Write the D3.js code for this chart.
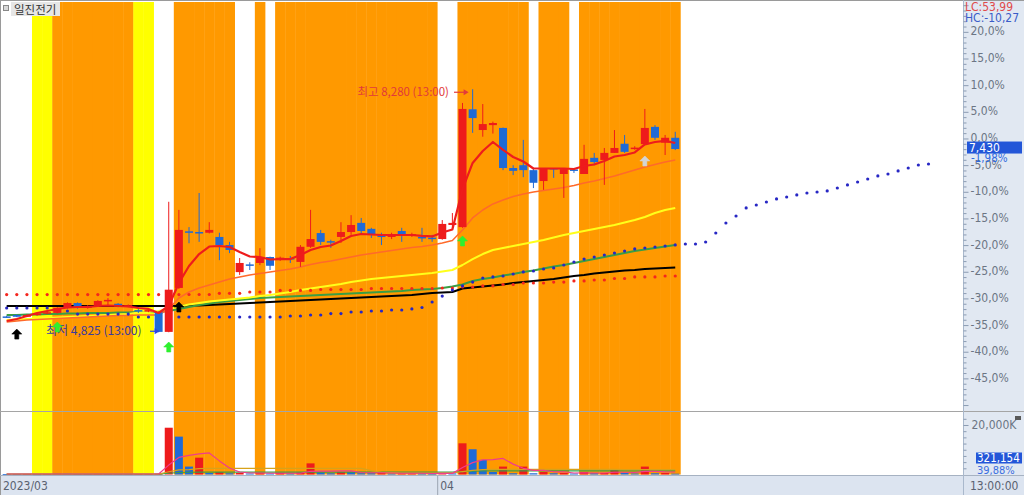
<!DOCTYPE html>
<html><head><meta charset="utf-8">
<script src="https://cdn.jsdelivr.net/npm/d3@7/dist/d3.min.js"></script>
<style>
html,body{margin:0;padding:0;background:#fff;overflow:hidden;}
svg{display:block;}
.ax text{font-family:'Liberation Sans Narrow','DejaVu Sans Condensed','Liberation Sans',sans-serif;font-size:12px;fill:#6b7584;}
</style></head><body>
<svg id="chart" width="1024" height="495"></svg>
<script>
// ---------------- DATA ----------------
const stockName = "일진전기";
const periodIndex = d3.range(92);              // 67 candles + 25 forward periods
const candleCount = 67;
const bgState = "WWWYYOOOOOOOOYYWWOOOOOOWWOWOOOOOOOOOOOOOOOOWWOOOOOOOWOOOWOOOOOOOOOO";
const monthLabels = ["2023/03", "04"];
const monthStart = [0, 43];
const basePrice = 7580;                        // 0,0% reference
const pctTickLabels = [20,15,10,5,0,-5,-10,-15,-20,-25,-30,-35,-40,-45];
const volTickLabels = [20000];                 // K

const openP  = [5050,5070,5045,5070,5090,5100,5170,5240,5170,5200,5270,5230,5190,5140,5120,5110,4830,5455,6260,6250,6240,6180,6065,5680,5790,5810,5895,5855,5880,5825,6040,6235,6120,6180,6250,6380,6295,6200,6180,6265,6195,6180,6170,6150,6350,6320,7995,7700,7770,7730,7160,7200,7130,6975,7160,7075,7140,7075,7305,7275,7375,7505,7430,7500,7745,7520,7590];
const highP  = [5060,5080,5080,5095,5120,5180,5250,5250,5210,5280,5310,5240,5220,5160,5150,5120,6680,6565,6320,6805,6390,6240,6110,5880,5820,6020,5900,5900,5910,6065,6565,6280,6140,6390,6490,6450,6310,6240,6240,6310,6240,6310,6210,6420,6520,8085,8280,8070,7820,7735,7200,7560,7160,7160,7160,7160,7160,7490,7375,7445,7700,7630,7470,8000,7770,7630,7675];
const lowP   = [5030,5040,5040,5060,5080,5090,5160,5160,5160,5190,5200,5180,5180,5100,5110,4825,4825,5440,6090,6110,6230,5850,5950,5640,5710,5780,5710,5840,5810,5755,6025,6065,6025,6095,6210,6210,6165,6065,6150,6110,6180,6110,6110,6140,6310,6310,7660,7605,7650,7130,7060,7030,6875,6850,7020,6735,7090,7075,7200,6920,7375,7375,7420,7490,7560,7345,7415];
const closeP = [5040,5045,5070,5090,5110,5170,5240,5170,5200,5270,5285,5190,5210,5120,5140,4830,5430,6280,6250,6240,6280,6065,5995,5810,5780,5895,5770,5885,5865,6040,6150,6110,6110,6250,6350,6265,6210,6180,6210,6195,6220,6165,6160,6365,6380,8000,7870,7785,7800,7160,7120,7130,6950,7160,7145,7145,7130,7290,7245,7375,7445,7390,7450,7730,7590,7590,7430];
const volumeK = [150,120,200,100,150,400,350,200,150,250,200,150,120,150,200,300,18900,15300,3200,6800,600,1000,500,600,400,500,400,600,400,800,4500,900,500,1000,1000,500,500,550,350,450,500,500,300,500,450,12600,10200,5900,1000,3200,500,3200,500,1000,500,600,400,1000,500,600,1800,600,400,3200,500,600,321.154];

const lineRed    = [4985,5014,5056,5099,5127,5156,5177,5184,5184,5198,5205,5198,5191,5170,5156,5099,5198,5525,5767,5937,6044,6051,6037,5966,5902,5895,5859,5866,5866,5923,5995,6037,6058,6122,6194,6222,6215,6208,6208,6208,6208,6194,6187,6243,6286,6862,7232,7402,7530,7417,7317,7253,7153,7153,7153,7153,7146,7189,7210,7260,7324,7345,7381,7495,7530,7545,7516];
const lineOrange = [4971,4985,4999,5006,5014,5021,5028,5035,5042,5049,5056,5063,5063,5070,5070,5070,5156,5312,5397,5454,5497,5539,5582,5611,5639,5660,5682,5703,5724,5753,5788,5817,5838,5866,5895,5923,5944,5966,5987,6009,6030,6044,6066,6094,6130,6279,6450,6563,6649,6705,6755,6791,6819,6841,6862,6883,6912,6947,6976,7011,7047,7089,7132,7175,7210,7246,7274];
const lineYellow = [4999,5006,5014,5021,5028,5035,5042,5049,5056,5063,5070,5077,5084,5106,5113,5127,5156,5191,5219,5241,5262,5276,5291,5305,5319,5340,5355,5376,5397,5426,5447,5468,5490,5511,5539,5561,5582,5596,5611,5625,5639,5653,5668,5689,5710,5781,5866,5937,5995,6023,6051,6080,6108,6137,6172,6208,6236,6265,6293,6322,6350,6386,6421,6464,6521,6563,6592];
const lineGreen  = [5070,5070,5077,5077,5084,5084,5091,5091,5099,5099,5099,5106,5106,5113,5113,5113,5127,5156,5184,5212,5234,5255,5269,5283,5298,5312,5319,5326,5333,5340,5347,5355,5362,5369,5376,5383,5390,5397,5405,5412,5426,5433,5440,5454,5475,5504,5554,5582,5603,5632,5653,5682,5703,5731,5760,5781,5810,5838,5866,5895,5923,5952,5980,6001,6023,6044,6066];
const lineBlack  = [5198,5198,5198,5198,5198,5198,5198,5198,5198,5198,5198,5198,5198,5198,5198,5198,5198,5198,5205,5205,5212,5219,5227,5234,5241,5248,5255,5262,5269,5276,5283,5291,5298,5305,5312,5319,5326,5333,5340,5347,5355,5369,5383,5390,5397,5447,5461,5475,5490,5504,5525,5539,5554,5568,5582,5603,5625,5639,5660,5674,5689,5703,5710,5724,5731,5738,5746];
const dotsUpper  = [5360,5360,5360,5360,5360,5360,5360,5360,5360,5360,5360,5360,5360,5360,5360,5360,5360,5360,5362,5362,5362,5379,5379,5379,5397,5397,5397,5419,5419,5419,5419,5433,5433,5433,5433,5433,5447,5447,5447,5447,5447,5447,5447,5454,5454,5468,5468,5483,5483,5504,5504,5525,5525,5525,5539,5539,5554,5554,5568,5568,5589,5589,5611,5611,5611,5625,5625];
const dotsLead   = [5170,5170,5170,5170,5170,5127,5127,5084,5084,5084,5084,5084,5084,5042,5042,5042,5042,5042,5042,5042,5042,5042,5042,5042,5042,5042,5042,5042,5056,5056,5070,5070,5091,5091,5113,5113,5127,5127,5141,5141,5156,5177,5255,5340,5426,5483,5539,5596,5611,5625,5653,5682,5696,5724,5739,5781,5824,5866,5895,5923,5952,5980,6009,6023,6037,6051,6066,6080,6080,6108,6236,6378,6478,6592,6634,6677,6720,6748,6777,6805,6819,6834,6876,6919,6961,7004,7047,7075,7118,7160,7203,7217];

const volLinePink  = [200,200,200,200,200,200,200,200,200,200,200,200,200,200,200,200,3800,6900,7700,8300,8700,5500,2600,1000,600,600,500,500,500,500,1300,1400,1400,1500,1500,800,700,700,600,500,500,500,400,450,450,2800,4800,5900,6000,6500,4200,2500,1700,1700,1100,1100,600,700,600,600,900,900,800,1300,1300,1100,1000];
const volLineOchre = [200,200,200,200,200,200,200,200,200,200,200,200,200,200,200,200,1100,1900,2000,2400,2500,2500,2500,2500,2500,2500,2500,2500,2500,2500,2500,2500,2500,2500,2500,2500,1600,900,800,600,600,600,600,600,600,1200,1700,2000,2100,2100,2100,2100,2100,2100,2100,2100,2100,2100,2100,2100,2100,2000,2000,2000,2000,2000,2000];
const volLineGreen = [150,150,150,150,150,150,150,150,150,150,150,150,150,150,150,150,500,800,900,1000,1000,1000,1000,1000,1000,1000,1000,1000,1000,1000,1000,1000,1000,1000,1000,1000,1000,1000,1000,1000,1000,1000,1000,1000,1000,1200,1400,1500,1500,1500,1500,1500,1500,1500,1500,1500,1500,1500,1500,1500,1500,1500,1500,1500,1500,1500,1500];

const signalIdx   = [1, 5, 16, 17, 45, 63];
const signalPrice = [4870, 4971, 4686, 5255, 6194, 7331];
const signalColor = ["#000000", "#2ef02e", "#2ef02e", "#000000", "#2ef02e", "#d4d4d4"];

const hiIdx = 46, loIdx = 15;
const hiText = "최고 8,280 (13:00)", loText = "최저 4,825 (13:00)";
const lcText = "LC:53,99", hcText = "HC:-10,27";
const lastPriceText = "7,430", lastPctText = "-1,98%";
const lastVolText = "321,154", lastVolPctText = "39,88%";
const timeText = "13:00:00";

// ---------------- LAYOUT ----------------
const W = 1024, H = 495;
const plotL = 1.6, axisX = 963;
const mainTop = 2, mainBot = 410, volTop = 412, volBot = 474.5, dateTop = 476;
const step = 10.13;
const svg = d3.select("#chart");
const candleIdx = periodIndex.slice(0, candleCount);

const x = d3.scaleBand().domain(periodIndex).range([plotL, plotL + step * periodIndex.length]).padding(0);
const cx = i => x(i) + x.bandwidth() / 2;
const pctMin = -50.93, pctMax = 25.6;
const yPct = d3.scaleLinear().domain([pctMin, pctMax]).range([mainBot, mainTop]);
const y = d3.scaleLinear().domain([basePrice * (1 + pctMin / 100), basePrice * (1 + pctMax / 100)]).range([mainBot, mainTop]);
const yv = d3.scaleLinear().domain([0, 25250]).range([volBot, volTop]);

const RED = "#ee1b1b", BLUE = "#1f6ad6";
const AXBG = "#e1e8f2";

// backgrounds
svg.append("rect").attr("width", W).attr("height", H).attr("fill", "#ffffff");
const bgColor = { Y: "#ffff00", O: "#ff9900" };
svg.append("g").selectAll("rect").data(candleIdx.filter(i => bgState[i] !== "W")).join("rect")
  .attr("x", i => x(i)).attr("width", x.bandwidth() + 0.4)
  .attr("y", mainTop).attr("height", volBot - mainTop)
  .attr("fill", i => bgColor[bgState[i]]);

// panels
svg.append("rect").attr("x", axisX).attr("y", 0).attr("width", W - axisX).attr("height", dateTop).attr("fill", AXBG);
svg.append("rect").attr("x", 0).attr("y", dateTop).attr("width", W).attr("height", H - dateTop).attr("fill", "#dce4f0");
svg.append("line").attr("x1", 0).attr("x2", W).attr("y1", 0.5).attr("y2", 0.5).attr("stroke", "#9a9a9a");
svg.append("line").attr("x1", 0.5).attr("x2", 0.5).attr("y1", 0).attr("y2", H).attr("stroke", "#9a9a9a");
svg.append("line").attr("x1", 0).attr("x2", W).attr("y1", 411.5).attr("y2", 411.5).attr("stroke", "#a5a5a5");
svg.append("line").attr("x1", 0).attr("x2", W).attr("y1", dateTop - 0.5).attr("y2", dateTop - 0.5).attr("stroke", "#a6b2c2");
svg.append("line").attr("x1", axisX + 0.5).attr("x2", axisX + 0.5).attr("y1", 0).attr("y2", H).attr("stroke", "#a9b8cc");

// volume bars
svg.append("g").selectAll("rect").data(candleIdx).join("rect")
  .attr("x", i => cx(i) - 4).attr("width", 8)
  .attr("y", i => yv(volumeK[i])).attr("height", i => Math.max(0.8, volBot - yv(volumeK[i])))
  .attr("fill", i => (i > 0 && volumeK[i] > volumeK[i - 1]) ? RED : BLUE);

function drawLine(data, scale, color, width) {
  svg.append("path").datum(data.map((v, i) => [i, v]))
    .attr("fill", "none").attr("stroke", color).attr("stroke-width", width).attr("stroke-linejoin", "round")
    .attr("d", d3.line().x(d => cx(d[0])).y(d => scale(d[1])));
}
drawLine(volLineGreen, yv, "#3c9e46", 1.2);
drawLine(volLineOchre, yv, "#d8a21a", 1.2);
drawLine(volLinePink, yv, "#f03c8c", 1.2);

// main indicator lines
drawLine(lineBlack, y, "#000000", 2);
drawLine(lineGreen, y, "#3a9e44", 2);
drawLine(lineYellow, y, "#ffff1a", 2);
drawLine(lineOrange, y, "#ff6a2a", 1.5);

function drawDots(data, color) {
  svg.append("g").selectAll("circle").data(data.map((v, i) => [i, v])).join("circle")
    .attr("cx", d => cx(d[0])).attr("cy", d => y(d[1])).attr("r", 1.6).attr("fill", color);
}
drawDots(dotsUpper, "#f4261e");
drawDots(dotsLead, "#2727c4");

// candles
const cg = svg.append("g");
cg.selectAll("line").data(candleIdx).join("line")
  .attr("x1", i => cx(i)).attr("x2", i => cx(i))
  .attr("y1", i => y(highP[i])).attr("y2", i => y(lowP[i]))
  .attr("stroke", i => closeP[i] >= openP[i] ? RED : BLUE).attr("stroke-width", 1);
cg.selectAll("rect").data(candleIdx).join("rect")
  .attr("x", i => cx(i) - 4).attr("width", 8)
  .attr("y", i => y(Math.max(openP[i], closeP[i])))
  .attr("height", i => Math.max(1.5, Math.abs(y(openP[i]) - y(closeP[i]))))
  .attr("fill", i => closeP[i] >= openP[i] ? RED : BLUE);

drawLine(lineRed, y, "#ee1c1c", 2.2);

// high / low labels
const krFont = "'Noto Sans CJK KR','Noto Sans',sans-serif";
function arrowRight(x1, x2, yy, color) {
  svg.append("line").attr("x1", x1).attr("x2", x2 - 4).attr("y1", yy).attr("y2", yy).attr("stroke", color).attr("stroke-width", 1.2);
  svg.append("path").attr("d", `M${x2},${yy} L${x2 - 5},${yy - 3} L${x2 - 5},${yy + 3} Z`).attr("fill", color);
}
svg.append("text").attr("x", 449).attr("y", y(highP[hiIdx]) + 7).attr("text-anchor", "end")
  .attr("font-family", krFont).attr("font-size", 11.5).attr("fill", "#e23a3a").text(hiText);
arrowRight(454, cx(hiIdx) - 4, y(highP[hiIdx]) + 3, "#e23a3a");
svg.append("text").attr("x", 46).attr("y", y(lowP[loIdx]) + 3).attr("text-anchor", "start")
  .attr("font-family", krFont).attr("font-size", 12).attr("fill", "#3a3a9e").text(loText);
arrowRight(150, cx(loIdx) + 1, y(lowP[loIdx]) - 1, "#2a44e6");

// signal arrows
svg.append("g").selectAll("path").data(signalIdx.map((v, k) => k)).join("path")
  .attr("transform", k => `translate(${cx(signalIdx[k])},${y(signalPrice[k])})`)
  .attr("d", "M0,0 L5,5 L2,5 L2,10 L-2,10 L-2,5 L-5,5 Z")
  .attr("fill", k => signalColor[k]).attr("stroke", k => signalColor[k]).attr("stroke-width", 0.6);

// right axis
const pctFmt = d3.formatLocale({ decimal: ",", thousands: ".", grouping: [3], currency: ["", ""], minus: "-" }).format(".1f");
const volFmt = d3.formatLocale({ decimal: ".", thousands: ",", grouping: [3], currency: ["", ""], minus: "-" }).format(",.0f");
const minorPct = d3.range(-50, 26, 1).filter(v => v % 5 !== 0);
svg.append("g").attr("class", "ax").attr("transform", `translate(${axisX + 0.5},0)`)
  .call(d3.axisRight(yPct).tickValues(minorPct).tickSize(3).tickFormat(""));
const axMajor = svg.append("g").attr("class", "ax").attr("transform", `translate(${axisX + 0.5},0)`)
  .call(d3.axisRight(yPct).tickValues(pctTickLabels.concat([-50, 25])).tickSize(5).tickPadding(2)
    .tickFormat(d => pctTickLabels.includes(d) ? pctFmt(d) + "%" : ""));
axMajor.selectAll("text").attr("dy", "0.25em");
svg.append("g").attr("class", "ax").attr("transform", `translate(${axisX + 0.5},0)`)
  .call(d3.axisRight(yv).tickValues(volTickLabels).tickSize(5).tickPadding(3).tickFormat(d => volFmt(d) + "K"));
svg.append("g").attr("class", "ax").attr("transform", `translate(${axisX + 0.5},0)`)
  .call(d3.axisRight(yv).tickValues([2500, 5000, 7500, 10000, 12500, 15000, 17500, 22500]).tickSize(3).tickFormat(""));
svg.selectAll(".ax .domain").remove();
svg.selectAll(".ax line").attr("stroke", "#8b9bb2");

// right-side value labels
const narrow = "'Liberation Sans Narrow','DejaVu Sans Condensed','Liberation Sans',sans-serif";
svg.append("text").attr("x", 965).attr("y", 11).attr("font-family", narrow).attr("font-size", 12).attr("fill", "#e04a4a").text(lcText);
svg.append("text").attr("x", 965).attr("y", 22).attr("font-family", narrow).attr("font-size", 12).attr("fill", "#3a5cc8").text(hcText);
const yLast = y(closeP[candleCount - 1]);
svg.append("rect").attr("x", 970).attr("y", yLast + 4.5).attr("width", 40).attr("height", 6).attr("fill", AXBG);
svg.append("rect").attr("x", 967).attr("y", yLast - 7.5).attr("width", 55).attr("height", 12).attr("fill", "#2356d8");
svg.append("text").attr("x", 969).attr("y", yLast + 2.5).attr("font-family", narrow).attr("font-size", 12).attr("fill", "#ffffff").text(lastPriceText);
svg.append("text").attr("x", 971).attr("y", yLast + 13).attr("font-family", narrow).attr("font-size", 11.5).attr("fill", "#2f6be0").text(lastPctText);
svg.append("rect").attr("x", 976).attr("y", 452.5).attr("width", 46).attr("height", 11).attr("fill", "#2356d8");
svg.append("text").attr("x", 977).attr("y", 462).attr("font-family", narrow).attr("font-size", 11.5).attr("fill", "#ffffff").text(lastVolText);
svg.append("text").attr("x", 977).attr("y", 473.5).attr("font-family", narrow).attr("font-size", 11).attr("fill", "#3a6ee0").text(lastVolPctText);
svg.append("rect").attr("x", 1015).attr("y", 416).attr("width", 6).attr("height", 4).attr("fill", "#5a5a5a");

// date axis
svg.append("g").selectAll("text").data(monthLabels).join("text")
  .attr("x", (d, k) => k === 0 ? 3 : x(monthStart[k]) + 3).attr("y", 490)
  .attr("font-family", narrow).attr("font-size", 12).attr("fill", "#5a6270").text(d => d);
svg.append("g").selectAll("line").data(monthStart.slice(1)).join("line")
  .attr("x1", d => x(d) + 0.5).attr("x2", d => x(d) + 0.5).attr("y1", dateTop).attr("y2", H)
  .attr("stroke", "#9aa4b2");
svg.append("text").attr("x", 970).attr("y", 490).attr("font-family", narrow).attr("font-size", 12).attr("fill", "#5a6270").text(timeText);

// title
svg.append("rect").attr("x", 3.5).attr("y", 5.5).attr("width", 5).attr("height", 5).attr("fill", "#d8d8d8").attr("stroke", "#888");
svg.append("rect").attr("x", 11).attr("y", 2).attr("width", 49).attr("height", 14).attr("fill", "#e6e6e6");
svg.append("text").attr("x", 14).attr("y", 13.5).attr("font-family", krFont).attr("font-size", 11.5).attr("fill", "#333").text(stockName);
</script>
</body></html>
